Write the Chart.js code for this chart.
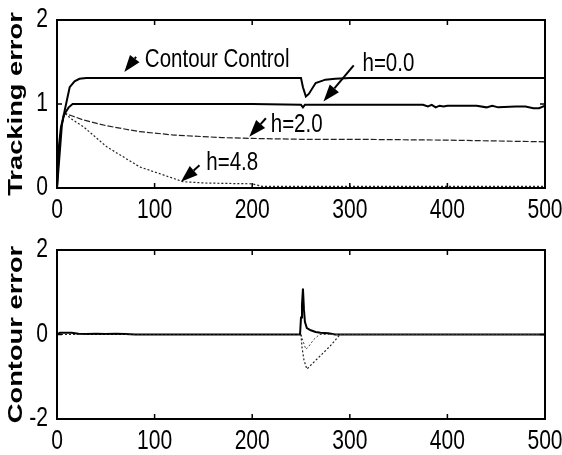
<!DOCTYPE html>
<html lang="en">
  <head>
    <meta charset="UTF-8" />
    <title>Tracking and contour error</title>
    <style>
      body { margin: 0; background: #fff; }
      .box { position: absolute; left: 0; width: 562px; }
    </style>
  </head>
  <body>
    <div class="box" style="top:0"><canvas id="topChart" width="562" height="228"></canvas></div>
    <div class="box" style="top:228px"><canvas id="bottomChart" width="562" height="227"></canvas></div>
  </body>
</html>
<script src="https://cdn.jsdelivr.net/npm/chart.js"></script>

<script>
  // tracking error (top)
  const ccX = [0, 3, 5, 8, 13, 18, 23, 30, 100, 200, 250, 252, 255, 258, 265, 275, 285, 300, 400, 500];
  const ccY = [0, 0.45, 0.75, 0.93, 1.2, 1.27, 1.3, 1.31, 1.31, 1.31, 1.31, 1.2, 1.09, 1.12, 1.25, 1.29, 1.3, 1.31, 1.31, 1.31];
  const h0X = [0, 2, 4, 7, 12, 16, 100, 200, 250, 252, 254, 300, 375, 380, 384, 388, 392, 396, 400, 430, 440, 446, 452, 470, 480, 488, 494, 500];
  const h0Y = [0, 0.5, 0.72, 0.87, 0.96, 1.0, 1.0, 1.0, 0.99, 0.96, 0.99, 0.99, 0.99, 0.97, 0.99, 0.96, 0.98, 0.97, 0.98, 0.98, 0.96, 0.98, 0.96, 0.97, 0.97, 0.95, 0.95, 0.98];
  const h2X = [0, 2, 4, 8, 15, 27, 51, 85, 120, 169, 200, 250, 300, 400, 500];
  const h2Y = [0, 0.45, 0.72, 0.89, 0.86, 0.81, 0.74, 0.67, 0.63, 0.6, 0.59, 0.58, 0.58, 0.57, 0.55];
  const h48X = [0, 2, 4, 8, 15, 27, 51, 85, 118, 129, 150, 170, 200, 210, 300, 400, 500];
  const h48Y = [0, 0.45, 0.72, 0.89, 0.82, 0.73, 0.49, 0.25, 0.12, 0.075, 0.06, 0.055, 0.05, 0.02, 0.02, 0.02, 0.02];

  // contour error (bottom)
  const ceX = [0, 3, 8, 15, 22, 30, 40, 50, 60, 70, 80, 150, 249, 250, 251, 252, 253, 254, 256, 260, 265, 270, 278, 285, 300, 400, 500];
  const ceY = [0, 0.04, 0.04, 0.04, 0.02, 0.01, 0.02, 0.01, 0.02, 0.01, 0, 0, 0, 0.4, 0.7, 1.09, 0.6, 0.3, 0.15, 0.1, 0.06, 0.04, 0.03, 0, 0, 0, 0];
  const negAX = [0, 250, 251, 253, 256, 262, 270, 280, 290, 500];
  const negAY = [0, 0, -0.3, -0.6, -0.82, -0.68, -0.5, -0.27, 0, 0];
  const negBX = [0, 250, 252, 255, 258, 263, 269, 500];
  const negBY = [0, 0, -0.15, -0.35, -0.28, -0.12, 0, 0];

  const xTicks = [0, 100, 200, 300, 400, 500];
  const topYTicks = [0, 1, 2];
  const bottomYTicks = [-2, 0, 2];

  // labels with arrows on the top chart (data coords)
  const noteText = ["Contour Control", "h=0.0", "h=2.0", "h=4.8"];
  const noteX = [90, 313, 219, 153];
  const noteY = [1.52, 1.48, 0.75, 0.3];
  const tailX = [81, 304, 214, 146];
  const tailY = [1.56, 1.46, 0.83, 0.27];
  const tipX = [69, 273, 197, 127];
  const tipY = [1.38, 1.03, 0.61, 0.075];

  const sans = "'Liberation Sans', Arial, sans-serif";

  function pts(xs, ys) {
    return xs.map((x, i) => ({ x: x, y: ys[i] }));
  }

  function line(xs, ys, width, dash, color) {
    return {
      data: pts(xs, ys),
      borderColor: color || "#000",
      borderWidth: width,
      borderDash: dash || [],
      pointRadius: 0,
      tension: 0,
      fill: false,
    };
  }

  // narrow text: regular font squeezed sideways
  function squeezed(c, txt, x, y, size, sx, align) {
    c.save();
    c.font = size + "px " + sans;
    c.textAlign = align;
    c.textBaseline = "middle";
    c.translate(x, y);
    c.scale(sx, 1);
    c.fillText(txt, 0, 0);
    c.restore();
  }

  // box around the plot, inward ticks, tick labels, y title
  const framePlugin = {
    id: "frame",
    afterDraw(chart) {
      const c = chart.ctx;
      const a = chart.chartArea;
      const sx = chart.scales.x;
      const sy = chart.scales.y;
      c.save();
      c.strokeStyle = "#000";
      c.fillStyle = "#000";
      c.lineWidth = 2;
      c.strokeRect(a.left, a.top, a.right - a.left, a.bottom - a.top);
      c.lineWidth = 1.5;
      c.beginPath();
      sx.ticks.forEach((t) => {
        const p = sx.getPixelForValue(t.value);
        c.moveTo(p, a.top); c.lineTo(p, a.top + 5);
        c.moveTo(p, a.bottom); c.lineTo(p, a.bottom - 5);
      });
      sy.ticks.forEach((t) => {
        const p = sy.getPixelForValue(t.value);
        c.moveTo(a.left, p); c.lineTo(a.left + 5, p);
        c.moveTo(a.right, p); c.lineTo(a.right - 5, p);
      });
      c.stroke();
      sx.ticks.forEach((t) => {
        squeezed(c, String(t.value), sx.getPixelForValue(t.value), a.bottom + 23, 27, 0.78, "center");
      });
      sy.ticks.forEach((t) => {
        squeezed(c, String(t.value), a.left - 9, sy.getPixelForValue(t.value), 27, 0.78, "right");
      });
      // stretched bold y title
      const title = chart.options.plugins.yTitle;
      c.font = "bold 21px " + sans;
      c.textAlign = "center";
      c.textBaseline = "middle";
      c.translate(16, (a.top + a.bottom) / 2);
      c.rotate(-Math.PI / 2);
      c.scale(1.3, 1);
      c.fillText(title, 0, 0);
      c.restore();
    },
  };

  const notesPlugin = {
    id: "notes",
    afterDatasetsDraw(chart) {
      if (!chart.options.plugins.notes) return;
      const c = chart.ctx;
      const sx = chart.scales.x;
      const sy = chart.scales.y;
      c.save();
      noteText.forEach((txt, i) => {
        const x0 = sx.getPixelForValue(tailX[i]);
        const y0 = sy.getPixelForValue(tailY[i]);
        const x1 = sx.getPixelForValue(tipX[i]);
        const y1 = sy.getPixelForValue(tipY[i]);
        const ang = Math.atan2(y1 - y0, x1 - x0);
        const hl = 17, hw = 6;
        const bx = x1 - hl * Math.cos(ang);
        const by = y1 - hl * Math.sin(ang);
        c.strokeStyle = "#000";
        c.lineWidth = 2;
        c.beginPath();
        c.moveTo(x0, y0);
        c.lineTo(bx, by);
        c.stroke();
        c.fillStyle = "#000";
        c.beginPath();
        c.moveTo(x1, y1);
        c.lineTo(bx - hw * Math.sin(ang), by + hw * Math.cos(ang));
        c.lineTo(bx + hw * Math.sin(ang), by - hw * Math.cos(ang));
        c.closePath();
        c.fill();
        squeezed(c, txt, sx.getPixelForValue(noteX[i]), sy.getPixelForValue(noteY[i]), 25, 0.82, "left");
      });
      c.restore();
    },
  };

  function makeChart(id, datasets, yTicks, title, xHeight, padTop, withNotes) {
    const ctx = document.getElementById(id).getContext("2d");
    return new Chart(ctx, {
      type: "line",
      data: { datasets: datasets },
      options: {
        responsive: false,
        animation: false,
        layout: { padding: { top: padTop, right: 17, left: 0, bottom: 0 } },
        plugins: {
          legend: { display: false },
          tooltip: { enabled: false },
          yTitle: title,
          notes: withNotes,
        },
        scales: {
          x: {
            type: "linear",
            min: xTicks[0],
            max: xTicks[xTicks.length - 1],
            afterBuildTicks: (s) => { s.ticks = xTicks.map((v) => ({ value: v })); },
            grid: { display: false, drawTicks: false },
            border: { display: false },
            ticks: { display: false },
            afterFit: (s) => { s.height = xHeight; s.paddingLeft = 0; s.paddingRight = 0; },
          },
          y: {
            min: yTicks[0],
            max: yTicks[yTicks.length - 1],
            afterBuildTicks: (s) => { s.ticks = yTicks.map((v) => ({ value: v })); },
            grid: { display: false, drawTicks: false },
            border: { display: false },
            ticks: { display: false },
            afterFit: (s) => { s.width = 57; s.paddingTop = 0; s.paddingBottom = 0; },
          },
        },
      },
      plugins: [framePlugin, notesPlugin],
    });
  }

  makeChart("topChart", [
    line(ccX, ccY, 2),
    line(h0X, h0Y, 2),
    line(h2X, h2Y, 1.2, [6, 2], "#222"),
    line(h48X, h48Y, 1.2, [2, 2], "#222"),
  ], topYTicks, "Tracking error", 40, 20, true);

  makeChart("bottomChart", [
    line(negAX, negAY, 1.2, [2, 2], "#222"),
    line(negBX, negBY, 1, [2, 2], "#444"),
    line(ceX, ceY, 2),
  ], bottomYTicks, "Contour error", 36, 22, false);
</script>
